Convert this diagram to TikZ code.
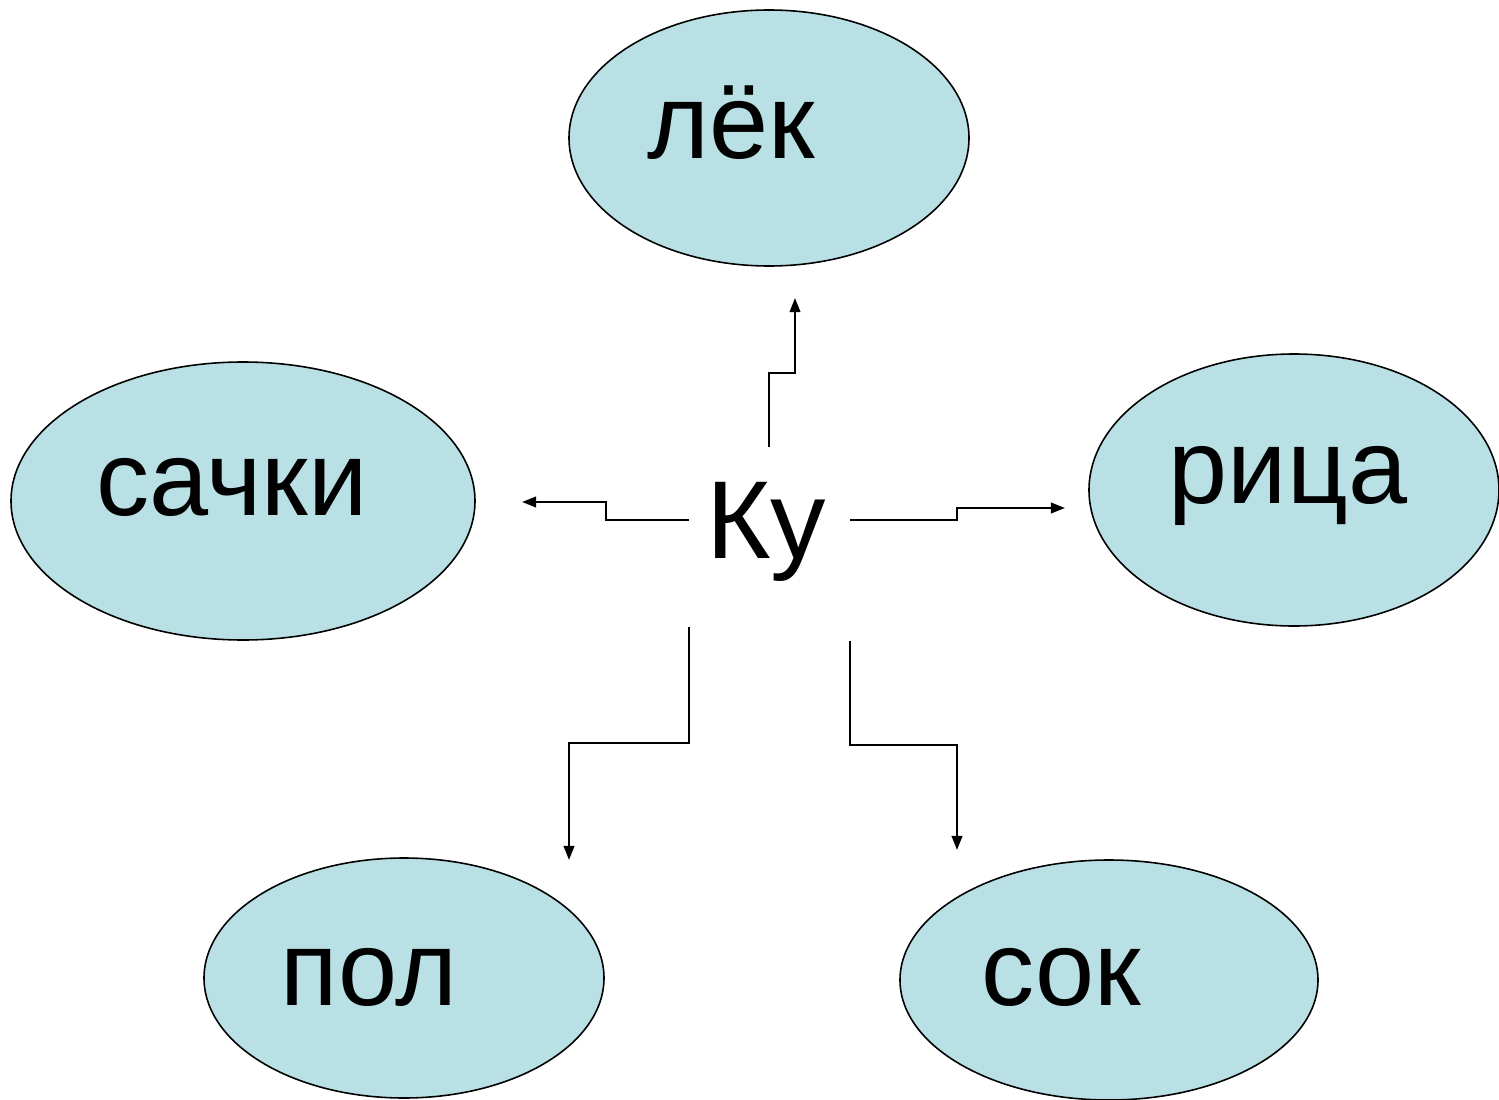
\documentclass[tikz,border=0pt]{standalone}
\usepackage{fontspec}
\setmainfont{Liberation Sans}
\usetikzlibrary{arrows.meta}
\definecolor{bubble}{HTML}{B9E0E4}
\begin{document}
\begin{tikzpicture}[x=0.01cm,y=-0.01cm,
  oval/.style={fill=bubble,draw=black,line width=0.45pt},
  word/.style={anchor=base,inner sep=0pt,font=\fontsize{30.2}{36}\selectfont},
  link/.style={line width=0.6pt,-{Triangle[length=4pt,width=3pt]}}]
\useasboundingbox (0,0) rectangle (1499,1100);
% ellipses
\draw[oval] (769,138) ellipse [x radius=200,y radius=128];
\draw[oval] (243,501) ellipse [x radius=232,y radius=139];
\draw[oval] (1294,490) ellipse [x radius=205,y radius=136];
\draw[oval] (404,978) ellipse [x radius=200,y radius=120];
\draw[oval] (1109,980) ellipse [x radius=209,y radius=120];
% words
\node[word] (lek) at (731,159) {лёк};
\node[word] (sachki) at (232,515) {сачки};
\node[word] (rica) at (1288,503) {рица};
\node[word] (pol) at (369,1005) {пол};
\node[word] (sok) at (1061,1005) {сок};
\node[word,font=\fontsize{31.5}{38}\selectfont] (ku) at (766,558) {Ку};
% connector ends
\coordinate (su) at (769,447); \coordinate (eu) at (795,298);
\coordinate (sl) at (689,520); \coordinate (el) at (522,502);
\coordinate (sr) at (850,520); \coordinate (er) at (1065,508);
\coordinate (sdl) at (689,627); \coordinate (edl) at (569,860);
\coordinate (sdr) at (850,641); \coordinate (edr) at (957,850);
% connectors
\draw[link] (su) |- (769,373) -| (eu);
\draw[link] (sl) -| (606,502) -- (el);
\draw[link] (sr) -| (957,508) -- (er);
\draw[link] (sdl) |- (569,743) -- (edl);
\draw[link] (sdr) |- (957,745) -- (edr);
\end{tikzpicture}
\end{document}
